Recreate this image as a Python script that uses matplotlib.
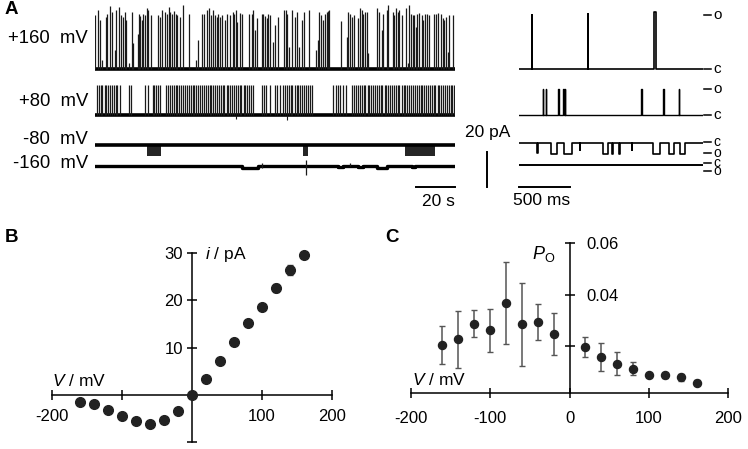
import numpy as np
import matplotlib
matplotlib.use("Agg")
import matplotlib.pyplot as plt

plt.rcParams['font.family'] = ['Liberation Sans', 'DejaVu Sans']
plt.rcParams['mathtext.fontset'] = 'custom'
plt.rcParams['mathtext.rm'] = 'Liberation Sans'
plt.rcParams['mathtext.it'] = 'Liberation Sans:italic'

# ---- panel A, long recordings (time in s, current in pA) ----
T_LEFT = 184.6
p160_t = [0.2, 1.7, 2.6, 3.8, 5.5, 6.3, 7.7, 8.5, 10.3, 10.8, 12.5, 13.3, 14.2, 15.2, 15.9,
          17.4, 18.8, 19.7, 21.9, 22.4, 23.1, 23.9, 24.8, 25.6, 26.5, 27.4, 28.6, 32.5, 33.3,
          34.2, 35.9, 36.8, 37.8, 38.5, 39.3, 40.5, 41.5, 42.2, 43.6, 45.0, 48.2, 51.8, 52.7,
          55.0, 56.1, 57.3, 58.3, 59.3, 60.3, 61.5, 62.4, 63.3, 64.1, 65.1, 66.7, 67.9, 69.2,
          70.6, 71.3, 72.3, 73.0, 74.4, 75.2, 79.1, 80.3, 81.2, 82.1, 82.9, 85.5, 86.3, 87.2,
          88.0, 88.9, 89.9, 91.1, 92.3, 94.0,
          96.9, 97.7, 98.6, 99.6, 100.8, 102.5, 103.4, 104.7, 105.9, 107.3, 109.9, 113.1, 114.5,
          115.0, 115.9, 116.7, 117.9, 118.8, 119.6, 120.1, 125.9, 129.0, 129.9, 130.7, 131.6,
          132.8, 135.0, 135.9, 136.7, 137.6, 138.6, 139.3, 140.1, 144.7, 145.6, 147.0, 147.8,
          149.5, 150.4, 152.6, 153.5, 154.3, 155.2, 156.0, 157.2, 159.3, 160.3, 161.0, 161.8,
          162.9, 163.7, 164.4, 165.3, 166.3, 167.5, 168.3, 169.2, 170.0, 171.2, 173.8, 174.8,
          176.0, 177.2, 178.2, 179.1, 179.9, 181.1, 181.6, 183.4]
p160_amp = [30.5, 33.7, 27.6, 4.8, 29.5, 31.4, 35.6, 32.4, 10.5, 33.7, 35.2, 30.5, 29.5, 32.4, 27.6,
            2.9, 32.4, 14.3, 20.0, 31.4, 29.9, 27.6, 31.4, 30.5, 34.3, 33.3, 30.5, 30.5, 29.5,
            33.3, 32.4, 31.4, 34.9, 32.4, 31.4, 33.0, 31.4, 30.5, 29.5, 36.2, 31.0, 4.8, 16.2,
            31.4, 31.4, 33.3, 34.3, 30.5, 33.3, 30.5, 29.5, 31.4, 29.5, 30.5, 27.6, 31.4, 30.5,
            32.4, 31.4, 33.3, 26.7, 31.8, 31.4, 31.4, 31.4, 33.3, 21.9, 28.6, 31.4, 31.4, 29.9,
            28.6, 31.4, 30.5, 15.2, 24.8, 29.5,
            33.3, 33.7, 31.4, 12.4, 33.3, 29.5, 32.4, 12.4, 27.6, 32.4, 33.3, 10.5, 16.2,
            32.4, 30.5, 27.6, 31.4, 32.4, 33.0, 33.3, 27.2, 18.1, 32.4, 31.4, 29.5,
            30.5, 28.6, 34.3, 33.3, 31.4, 32.4, 32.4, 8.6, 34.3, 32.4, 21.9, 31.4,
            33.3, 36.2, 32.4, 30.5, 34.3, 32.4, 33.3, 30.5, 34.3, 2.9, 36.2, 31.4,
            30.5, 30.5, 23.8, 31.4, 31.8, 30.5, 27.6, 31.4, 31.4, 30.5, 31.4, 31.4,
            31.8, 31.4, 28.6, 27.6, 29.5, 9.5, 30.5, 30.5]

P80_AMP = 17.0
p80_t = [1.0, 2.1, 3.0, 3.8, 4.9, 5.7, 6.6, 7.8, 8.7, 9.5, 10.6, 11.4, 12.6,
         17.4, 18.4,
         25.7, 27.0, 29.6, 30.4, 31.5, 32.4, 33.2,
         36.5, 37.4, 38.6, 39.5, 40.3, 41.4, 42.2, 43.3, 44.1, 45.2, 46.0, 47.1, 48.2, 49.0,
         50.1, 50.9, 52.0, 52.8, 53.9, 54.7, 55.8, 56.9, 57.7, 58.8, 59.6, 60.7, 61.5, 62.6,
         63.4, 64.5, 65.6, 66.4, 67.5, 68.3, 69.4, 70.2, 71.3, 72.4, 73.2, 74.3, 75.1, 76.2,
         77.0, 78.1, 79.2, 80.0, 80.9,
         85.7, 86.6, 87.8, 89.6,
         92.4, 93.5, 94.8,
         96.5, 97.4, 98.5, 99.3, 100.4, 101.2, 102.3, 103.4, 104.2, 105.3, 106.1, 107.2,
         108.0, 109.1, 110.2, 111.2,
         122.2, 123.5, 124.6, 125.8, 127.1, 128.7,
         131.9, 133.0, 133.8, 134.9, 135.7, 136.8, 137.9, 138.7, 139.8, 140.6, 141.7, 142.5,
         143.6, 144.7, 145.5, 146.6, 147.4, 148.5, 149.3, 150.4, 151.5, 152.3, 153.4, 154.2,
         155.3, 156.1, 157.2, 158.3, 159.1, 160.2, 161.0, 162.1, 162.9, 164.0, 165.1, 165.9,
         167.0, 167.8, 168.9, 169.7, 170.8, 171.9, 172.7, 173.8, 174.6, 175.7, 176.5, 177.6,
         178.7, 179.5, 180.6, 181.4, 182.5, 183.3, 184.3]
p80_glitch_t = [72.1, 98.3]
p80_glitch_amp = [-2.3, -3.0]

M80_AMP = -6.5
m80_blocks = [(26.5, 33.7), (106.5, 109.4), (159.0, 174.4)]

m160_bumps = [(75.4, 83.6, -0.9), (124.6, 127.2, -0.8), (134.9, 137.4, -0.8),
              (144.6, 149.7, -0.9), (162.6, 164.1, -0.7)]
m160_spike_t = [85.6, 108.2, 130.8]
m160_spike_lo = [-1.0, -4.9, 0.0]
m160_spike_hi = [2.0, 3.3, 1.5]

# ---- panel A, expanded recordings (time in ms, current in pA) ----
T_RIGHT = 1804
r160_events = [(123, 126, 30.9), (672, 676, 31.4), (1328, 1348, 32.5)]
r80_events = [(231, 234, 15.0), (264, 267, 15.0), (386, 389, 15.0), (434, 437, 15.0),
              (451, 455, 15.0), (1199, 1207, 15.0), (1414, 1417, 15.0), (1567, 1570, 15.0)]
rm80_events = [(180, 185, -5.5), (318, 372, -6.0), (440, 518, -6.5), (596, 600, -4.0),
               (820, 876, -6.0), (913, 923, -6.0), (985, 995, -6.0), (1103, 1108, -4.0),
               (1310, 1382, -6.0), (1474, 1520, -6.0), (1578, 1631, -6.0)]

# ---- panel B ----
V_B = [-160, -140, -120, -100, -80, -60, -40, -20, 0, 20, 40, 60, 80, 100, 120, 140, 160]
i_B = [-1.5, -2.0, -3.2, -4.6, -5.6, -6.2, -5.4, -3.4, 0.0, 3.4, 7.1, 11.1, 15.1, 18.6,
       22.6, 26.4, 29.6]
i_err = [0.3, 0.3, 0.3, 0.3, 0.3, 0.3, 0.3, 0.3, 0.2, 0.3, 0.3, 0.3, 0.4, 0.6, 0.8, 1.1, 0.5]

# ---- panel C ----
V_C = [-160, -140, -120, -100, -80, -60, -40, -20, 20, 40, 60, 80, 100, 120, 140, 160]
Po = [0.0204, 0.0226, 0.0287, 0.0262, 0.0366, 0.0284, 0.0292, 0.0247, 0.0196, 0.0158,
      0.0131, 0.0112, 0.0088, 0.0086, 0.0078, 0.0058]
Po_err = [0.0074, 0.011, 0.0052, 0.0084, 0.016, 0.016, 0.007, 0.008, 0.0038, 0.0054,
          0.0045, 0.0025, 0.0008, 0.001, 0.0015, 0.001]

W, H = 748, 449
PX_PA = 1.75  # pixels per pA (20 pA bar)
fig = plt.figure(figsize=(W / 100, H / 100), dpi=100)


def px_axes(x0, y0, x1, y1):
    return fig.add_axes([x0 / W, 1 - y1 / H, (x1 - x0) / W, (y1 - y0) / H])


def trace_axes(x0, x1, base, lo, hi, tmax):
    ax = px_axes(x0, base - hi * PX_PA, x1, base - lo * PX_PA)
    ax.set_xlim(0, tmax)
    ax.set_ylim(lo, hi)
    ax.axis('off')
    return ax


def step_xy(events, tmax):
    xs, ys = [0], [0]
    for s, e, a in events:
        xs += [s, s, e, e]
        ys += [0, a, a, 0]
    xs.append(tmax)
    ys.append(0)
    return xs, ys


def ftext(x, y, s, **kw):
    fig.text(x / W, 1 - y / H, s, **kw)


def state_label(ax, level, letter, size=11):
    tr = ax.get_yaxis_transform()
    ax.plot([1.005, 1.045], [level, level], color='k', lw=1.1, transform=tr, clip_on=False)
    ax.text(1.055, level, letter, transform=tr, fontsize=size, va='center', ha='left')


# left traces
ax = trace_axes(95, 455, 68.5, -4, 38, T_LEFT)
ax.plot([0, T_LEFT], [0, 0], color='k', lw=2.6)
ax.vlines(p160_t, 0, p160_amp, color='#1a1a1a', lw=0.9)

ax = trace_axes(95, 455, 115, -4, 20, T_LEFT)
ax.plot([0, T_LEFT], [0, 0], color='k', lw=2.6)
ax.vlines(p80_t, 0, P80_AMP, color='#1a1a1a', lw=0.9)
ax.vlines(p80_glitch_t, 0, p80_glitch_amp, color='#1a1a1a', lw=0.8)

ax = trace_axes(95, 455, 145, -9, 4, T_LEFT)
ax.plot([0, T_LEFT], [0, 0], color='k', lw=2.6)
for s, e in m80_blocks:
    ax.fill_between([s, e], 0, M80_AMP, color='#262626', lw=0)

axm160 = trace_axes(95, 455, 166, -14, 4, T_LEFT)
xs, ys = step_xy(m160_bumps, T_LEFT)
axm160.plot(xs, ys, color='k', lw=2.4)
axm160.vlines(m160_spike_t, m160_spike_lo, m160_spike_hi, color='#1a1a1a', lw=0.9)
axm160.plot([T_LEFT - 20, T_LEFT], [-11.8, -11.8], color='k', lw=1.4, clip_on=False)
axm160.text(T_LEFT, -16, '20 s', ha='right', va='top', fontsize=12.5)

# right traces
ax = trace_axes(519, 703, 69, -4, 36, T_RIGHT)
xs, ys = step_xy(r160_events, T_RIGHT)
ax.plot(xs, ys, color='k', lw=1.2)
state_label(ax, 30.9, 'o')
state_label(ax, 0, 'c')

ax = trace_axes(519, 703, 115, -4, 18, T_RIGHT)
xs, ys = step_xy(r80_events, T_RIGHT)
ax.plot(xs, ys, color='k', lw=1.0)
state_label(ax, 15, 'o')
state_label(ax, 0, 'c')

ax = trace_axes(519, 703, 143, -9, 4, T_RIGHT)
xs, ys = step_xy(rm80_events, T_RIGHT)
ax.plot(xs, ys, color='k', lw=1.2)
state_label(ax, 0.3, 'c', 10)
state_label(ax, -5.6, 'o', 10)

axr = trace_axes(519, 703, 165, -14, 4, T_RIGHT)
axr.plot([0, T_RIGHT], [0, 0], color='k', lw=1.4)
state_label(axr, 1.4, 'c', 10)
state_label(axr, -3.4, 'o', 10)
axr.plot([0, 500], [-12.4, -12.4], color='k', lw=1.4, clip_on=False)
axr.text(500, -16, '500 ms', ha='right', va='top', fontsize=12.5)
axr.plot([-314, -314], [7.4, -12.6], color='k', lw=1.4, clip_on=False)
axr.text(-304, 18.3, '20 pA', ha='center', va='center', fontsize=12.5)

ftext(5, 9, 'A', fontsize=13.5, fontweight='bold', va='center')
for lab, yc in [('+160  mV', 38.5), ('+80  mV', 101), ('-80  mV', 140), ('-160  mV', 164)]:
    ftext(88, yc, lab, fontsize=13.3, ha='right', va='center')

# panel B
axB = px_axes(52, 253, 332, 442)
axB.set_xlim(-200, 200)
axB.set_ylim(-10, 30)
for sp in ['top', 'right']:
    axB.spines[sp].set_visible(False)
axB.spines['left'].set_position(('data', 0))
axB.spines['bottom'].set_position(('data', 0))
axB.set_xticks([-200, -100, 0, 100, 200])
axB.set_xticklabels(['-200', '', '', '100', '200'])
axB.set_yticks([-10, 10, 20, 30])
axB.set_yticklabels(['', '10', '20', '30'])
axB.tick_params(direction='inout', length=7, width=1.1, labelsize=12)
axB.tick_params(axis='x', pad=7)
axB.tick_params(axis='y', pad=3)
for sp in axB.spines.values():
    sp.set_linewidth(1.1)
axB.errorbar(V_B, i_B, yerr=i_err, fmt='o', ms=7, color='#222222', ecolor='#444444',
             elinewidth=1, capsize=2, clip_on=False, zorder=3)
ftext(5, 238, 'B', fontsize=13.5, fontweight='bold', va='center')
ftext(205, 255, r'$i$ / pA', fontsize=12.5, va='center', ha='left')
ftext(52, 381, r'$V$ / mV', fontsize=12.5, va='center', ha='left')

# panel C
axC = px_axes(410.7, 243.3, 728.3, 393.3)
axC.set_xlim(-200, 200)
axC.set_ylim(0.0016, 0.06)
axC.spines['top'].set_visible(False)
axC.spines['left'].set_visible(False)
axC.spines['right'].set_position(('data', 0))
axC.yaxis.tick_right()
axC.set_xticks([-200, -100, 0, 100, 200])
axC.set_xticklabels(['-200', '-100', '0', '100', '200'])
axC.set_yticks([0.02, 0.04, 0.06])
axC.set_yticklabels(['', '0.04', '0.06'])
axC.tick_params(direction='inout', length=7, width=1.1, labelsize=12)
axC.tick_params(axis='x', pad=9)
axC.tick_params(axis='y', pad=9)
for sp in axC.spines.values():
    sp.set_linewidth(1.1)
axC.errorbar(V_C, Po, yerr=Po_err, fmt='o', ms=5.8, color='#222222', ecolor='#555555',
             elinewidth=1.1, capsize=2, clip_on=False, zorder=3)
ftext(385, 238, 'C', fontsize=13.5, fontweight='bold', va='center')
ftext(532, 254, r'$P_{\mathrm{O}}$', fontsize=13, va='center', ha='left')
ftext(412, 380, r'$V$ / mV', fontsize=12.5, va='center', ha='left')

fig.savefig('out.png', dpi=100)
